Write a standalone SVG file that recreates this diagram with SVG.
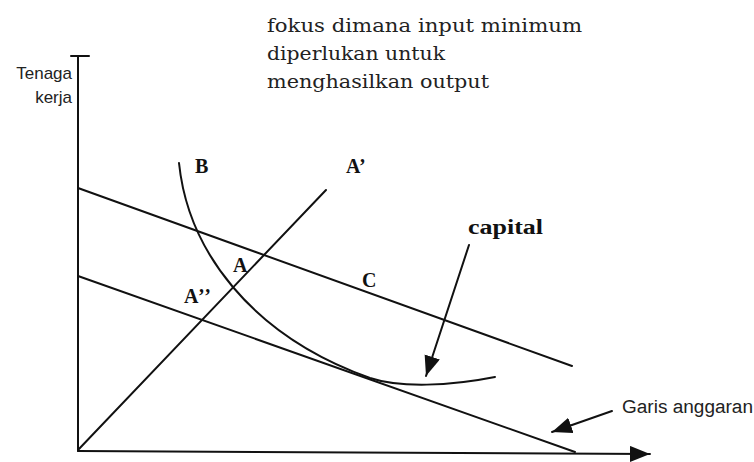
<svg xmlns="http://www.w3.org/2000/svg" width="754" height="462" viewBox="0 0 754 462">
  <defs>
    <style>
      .ln { fill: none; stroke: #111; stroke-width: 2; stroke-linecap: round; }
      .note { font-family: "DejaVu Serif", "Liberation Serif", serif; font-size: 19px; fill: #222; }
      .lbl { font-family: "Liberation Serif", "Times New Roman", serif; font-size: 20px; font-weight: bold; fill: #111; }
      .sans { font-family: "Liberation Sans", Arial, sans-serif; fill: #222; }
    </style>
    <marker id="head" markerUnits="userSpaceOnUse" markerWidth="22" markerHeight="18" refX="20" refY="8" orient="auto">
      <path d="M0,0 L20,8 L0,16 z" fill="#111"/>
    </marker>
  </defs>
  <rect width="754" height="462" fill="#fff"/>

  <g id="note">
    <text class="note" x="267" y="32" textLength="315" lengthAdjust="spacingAndGlyphs">fokus dimana input minimum</text>
    <text class="note" x="267" y="60" textLength="178" lengthAdjust="spacingAndGlyphs">diperlukan untuk</text>
    <text class="note" x="267" y="88" textLength="222" lengthAdjust="spacingAndGlyphs">menghasilkan output</text>
  </g>

  <g id="axes">
    <line class="ln" x1="78" y1="56" x2="78" y2="451"/>
    <line class="ln" x1="71" y1="56" x2="89" y2="56"/>
    <line class="ln" x1="78" y1="451" x2="650" y2="454" marker-end="url(#head)"/>
    <text class="sans" font-size="17" x="72" y="79" text-anchor="end">Tenaga</text>
    <text class="sans" font-size="17" x="72" y="103" text-anchor="end">kerja</text>
  </g>

  <g id="connectors">
    <line id="ray" class="ln" x1="78" y1="450" x2="326" y2="190"/>
    <line id="budget-upper" class="ln" x1="78" y1="188" x2="572" y2="366"/>
    <line id="budget-lower" class="ln" x1="78" y1="276" x2="575" y2="452"/>
    <path id="isoquant" class="ln" d="M179,163 C188,250 250,335 370,378 C400,388 450,386 495,377"/>
    <line id="capital-arrow" class="ln" x1="469" y1="245" x2="426" y2="376" marker-end="url(#head)"/>
    <line id="garis-arrow" class="ln" x1="612" y1="411" x2="552" y2="432" marker-end="url(#head)"/>
  </g>

  <g id="label-B"><text class="lbl" x="195" y="173">B</text></g>
  <g id="label-A1"><text class="lbl" x="346" y="173">A’</text></g>
  <g id="label-A"><text class="lbl" x="233" y="272">A</text></g>
  <g id="label-A2"><text class="lbl" x="184" y="303" letter-spacing="1">A’’</text></g>
  <g id="label-C"><text class="lbl" x="362" y="287">C</text></g>
  <g id="label-capital"><text class="lbl" font-size="21" x="468" y="234" textLength="75" lengthAdjust="spacingAndGlyphs">capital</text></g>
  <g id="label-garis"><text class="sans" font-size="18" x="622" y="413" textLength="131" lengthAdjust="spacingAndGlyphs">Garis anggaran</text></g>
</svg>
